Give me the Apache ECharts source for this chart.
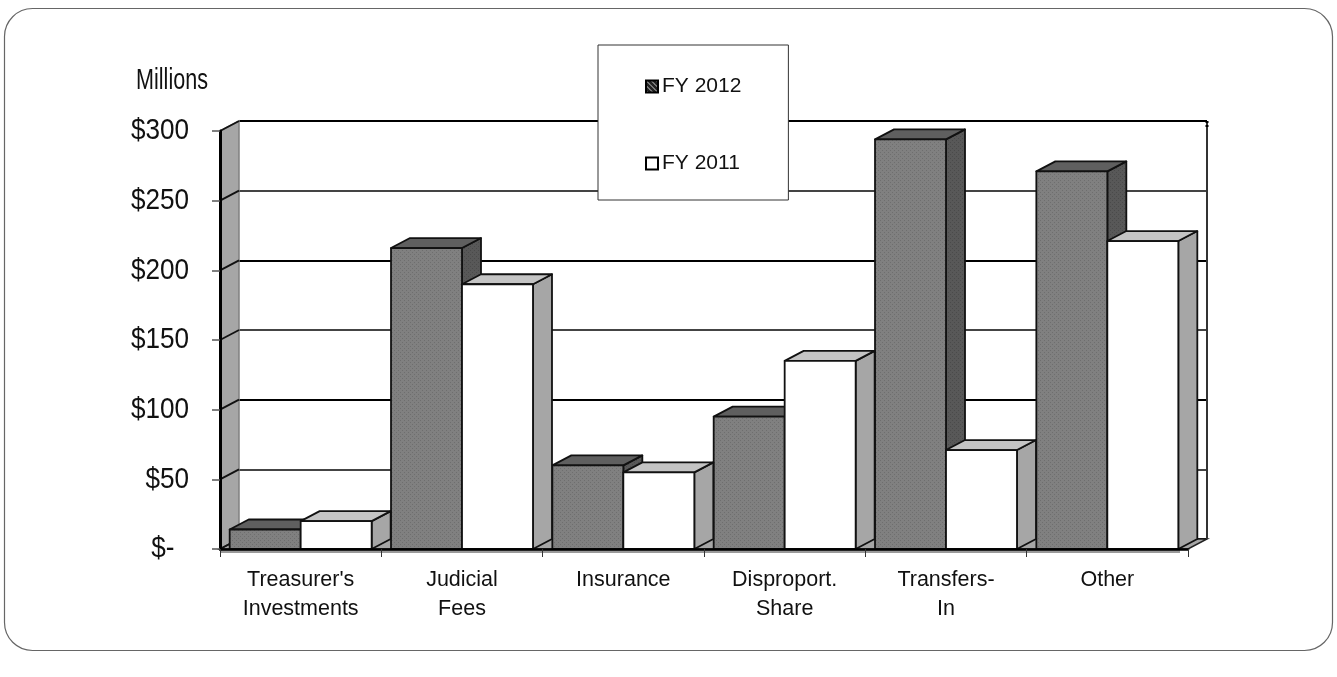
<!DOCTYPE html>
<html>
<head>
<meta charset="utf-8">
<style>html,body{margin:0;padding:0;background:#fff}#c{width:1337px;height:677px}</style>
<script src="https://cdn.jsdelivr.net/npm/echarts@6/dist/echarts.min.js"></script>
</head>
<body>
<div id="c"></div>
<script>
const categories = ["Treasurer's\nInvestments", "Judicial\nFees", "Insurance", "Disproport.\nShare", "Transfers-\nIn", "Other"];
const fy2012 = [14, 216, 60, 95, 294, 271];
const fy2011 = [20, 190, 55, 135, 71, 221];
const tickValues = [0, 50, 100, 150, 200, 250, 300];
const tickLabels = ['$-  ', '$50', '$100', '$150', '$200', '$250', '$300'];
const seriesNames = ['FY 2012', 'FY 2011'];
const unitLabel = 'Millions';

const depthX = 19, depthY = -10;

function dotPattern(bg, fg) {
  const c = document.createElement('canvas');
  c.width = 4; c.height = 4;
  const g = c.getContext('2d');
  g.fillStyle = bg; g.fillRect(0, 0, 4, 4);
  g.fillStyle = fg;
  g.fillRect(0, 0, 1, 1); g.fillRect(2, 2, 1, 1);
  return { image: c, repeat: 'repeat' };
}
function hatchPattern() {
  const c = document.createElement('canvas');
  c.width = 5; c.height = 5;
  const g = c.getContext('2d');
  g.fillStyle = '#222'; g.fillRect(0, 0, 5, 5);
  g.fillStyle = '#ccc';
  for (let i = 0; i < 5; i++) g.fillRect(i, i, 1, 1);
  return { image: c, repeat: 'repeat' };
}
const frontDark = dotPattern('#808080', '#6e6e6e');
const sideDark = dotPattern('#585858', '#4a4a4a');

function barItem(faces, offset) {
  return function (params, api) {
    const band = api.size([1, 0])[0];
    const w = band * 0.44;
    const base = api.coord([api.value(0), 0]);
    const top = api.coord([api.value(0), api.value(1)]);
    const x0 = base[0] + offset * w, x1 = x0 + w, yb = base[1], yt = top[1];
    const line = { stroke: '#111', lineWidth: 1.8, lineJoin: 'round' };
    return {
      type: 'group',
      children: [
        { type: 'polygon', shape: { points: [[x1, yb], [x1 + depthX, yb + depthY], [x1 + depthX, yt + depthY], [x1, yt]] },
          style: Object.assign({ fill: faces.side }, line) },
        { type: 'polygon', shape: { points: [[x0, yt], [x1, yt], [x1 + depthX, yt + depthY], [x0 + depthX, yt + depthY]] },
          style: Object.assign({ fill: faces.top }, line) },
        { type: 'rect', shape: { x: x0, y: yt, width: w, height: yb - yt },
          style: Object.assign({ fill: faces.front }, line) }
      ]
    };
  };
}

function wallItem(params, api) {
  const rect = params.coordSys;
  const left = rect.x, right = rect.x + rect.width, top = rect.y, bottom = rect.y + rect.height;
  const kids = [];
  if (params.dataIndex === 0) {
    kids.push({ type: 'polygon', shape: { points: [[left, top], [left + depthX, top + depthY], [left + depthX, bottom + depthY], [left, bottom]] },
      style: { fill: '#a6a6a6', stroke: '#808080', lineWidth: 1.5 } });
    kids.push({ type: 'polygon', shape: { points: [[left, bottom], [right, bottom], [right + depthX, bottom + depthY], [left + depthX, bottom + depthY]] },
      style: { fill: '#a6a6a6', stroke: '#222', lineWidth: 1.5 } });
    kids.push({ type: 'rect', shape: { x: left, y: bottom + 1, width: right - left - 8, height: 3 },
      style: { fill: '#9a9a9a' } });
    kids.push({ type: 'line', shape: { x1: right + depthX, y1: top + depthY, x2: right + depthX, y2: bottom + depthY },
      style: { stroke: '#333', lineWidth: 2 } });
    kids.push({ type: 'line', shape: { x1: right + depthX, y1: top + depthY, x2: right + depthX, y2: top + depthY + 7 },
      style: { stroke: '#000', lineWidth: 3, lineDash: [2, 2] } });
  }
  const p = api.coord([0, api.value(0)]);
  kids.push({ type: 'line', shape: { x1: left, y1: p[1], x2: left + depthX, y2: p[1] + depthY },
    style: { stroke: '#111', lineWidth: 1.8 } });
  return { type: 'group', children: kids };
}

const chart = echarts.init(document.getElementById('c'), null, { renderer: 'canvas' });
chart.setOption({
  animation: false,
  backgroundColor: '#fff',
  textStyle: { fontFamily: 'Liberation Sans' },
  legend: {
    show: true,
    left: 598, top: 45,
    orient: 'vertical',
    backgroundColor: '#fff',
    borderColor: '#333',
    borderWidth: 1,
    padding: [31, 47, 26, 47],
    itemGap: 56,
    itemWidth: 12,
    itemHeight: 12,
    selectedMode: false,
    textStyle: { fontFamily: 'Liberation Sans', fontSize: 21, color: '#111', padding: [0, 0, 0, -1] },
    data: [
      { name: seriesNames[0], icon: 'rect', itemStyle: { color: hatchPattern(), borderColor: '#000', borderWidth: 2 } },
      { name: seriesNames[1], icon: 'rect', itemStyle: { color: '#fff', borderColor: '#000', borderWidth: 2 } }
    ]
  },
  grid: [
    { left: 220, top: 131, width: 968, height: 418 },
    { left: 239, top: 121, width: 968, height: 418 }
  ],
  xAxis: [
    { type: 'category', gridIndex: 0, data: categories,
      axisLine: { show: true, lineStyle: { color: '#000', width: 2.5 } },
      axisTick: { show: true, length: 8, lineStyle: { color: '#333', width: 1 } },
      axisLabel: { fontFamily: 'Liberation Sans', fontSize: 21.5, color: '#111', lineHeight: 29, margin: 17, interval: 0 },
      z: 6 },
    { type: 'category', gridIndex: 1, data: categories, show: false }
  ],
  yAxis: [
    { type: 'value', gridIndex: 0, min: 0, max: 300, interval: 50,
      axisLine: { show: true, lineStyle: { color: '#000', width: 3 } },
      axisTick: { show: true, length: 8, lineStyle: { color: '#555', width: 1.5 } },
      axisLabel: { show: false },
      splitLine: { show: false },
      z: 6 },
    { type: 'value', gridIndex: 1, min: 0, max: 300, interval: 50,
      axisLine: { show: false }, axisTick: { show: false }, axisLabel: { show: false },
      splitLine: { show: true, lineStyle: { color: ['#000', '#444'], width: 2 } } }
  ],
  series: [
    { type: 'custom', name: 'wall', xAxisIndex: 0, yAxisIndex: 0, z: 1, silent: true,
      renderItem: wallItem, encode: { y: 0 }, data: tickValues.map(v => [v]) },
    { type: 'custom', name: seriesNames[0], xAxisIndex: 0, yAxisIndex: 0, z: 2, silent: true,
      itemStyle: { color: '#808080' },
      renderItem: barItem({ front: frontDark, side: sideDark, top: '#5f5f5f' }, -1),
      encode: { x: 0, y: 1 }, data: fy2012.map((v, i) => [i, v]) },
    { type: 'custom', name: seriesNames[1], xAxisIndex: 0, yAxisIndex: 0, z: 3, silent: true,
      itemStyle: { color: '#fff' },
      renderItem: barItem({ front: '#ffffff', side: '#a6a6a6', top: '#c4c4c4' }, 0),
      encode: { x: 0, y: 1 }, data: fy2011.map((v, i) => [i, v]) }
  ]
});

/* The reference type is condensed; no narrow face is installed, so scaled text
   is placed at the positions the value axis gives for each tick. */
const valueLabels = tickValues.map((v, i) => ({
  type: 'text', z: 10, silent: true,
  x: 189,
  y: chart.convertToPixel({ yAxisIndex: 0 }, v),
  scaleX: 0.87,
  style: { x: 0, y: 0, text: tickLabels[i], align: 'right', verticalAlign: 'middle',
           fill: '#111', font: '30px "Liberation Sans"' }
}));
chart.setOption({
  graphic: [
    { type: 'rect', z: -10, silent: true, shape: { x: 4.5, y: 8.5, width: 1328, height: 642, r: 28 },
      style: { fill: '#fff', stroke: '#666', lineWidth: 1.2 } },
    { type: 'text', z: 10, silent: true, x: 136, y: 81, scaleX: 0.72,
      style: { x: 0, y: 0, text: unitLabel, align: 'left', verticalAlign: 'middle',
               fill: '#111', font: '30px "Liberation Sans"' } }
  ].concat(valueLabels)
});
</script>
</body>
</html>
